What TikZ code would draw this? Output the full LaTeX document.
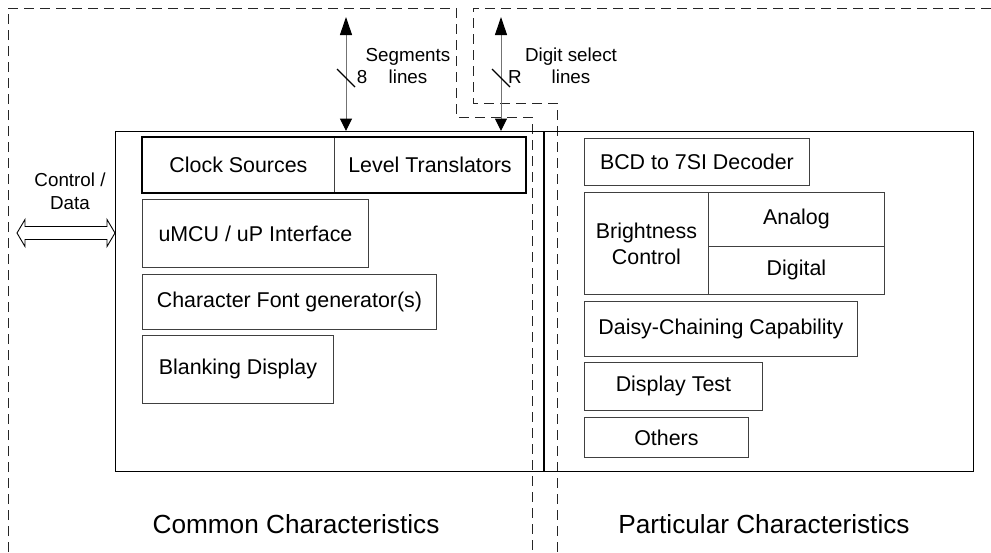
\documentclass[tikz,border=0pt]{standalone}
\usepackage{fontspec}
\setmainfont{Liberation Sans}
\usetikzlibrary{arrows.meta,calc}
\begin{document}
\begin{tikzpicture}[x=1pt,y=-1pt,
  box/.style={draw=black!75, line width=0.9pt, anchor=north west, inner sep=0pt,
    font=\fontsize{21.4}{26}\selectfont, align=center},
  mainbox/.style={draw=black, line width=1.3pt, anchor=north west, inner sep=0pt},
  region/.style={draw=black!85, line width=0.8pt, dash pattern=on 10pt off 6pt},
  sig/.style={draw=black!55, line width=1pt,
    {Triangle[length=18pt,width=12pt,black]}-{Triangle[length=12.5pt,width=12pt,black]}},
  lbl/.style={font=\fontsize{18.8}{22.5}\selectfont, align=center, inner sep=0pt},
  big/.style={font=\fontsize{26.2}{30}\selectfont, inner sep=0pt, anchor=base},
  hollow/.style={draw=black, line width=0.9pt, fill=white, line join=miter},
  bus/.style={draw=black, line width=1.1pt}
]
\useasboundingbox (0,0) rectangle (991,552);

% dashed regions
\draw[region] (8,552) -- (8,8) -- (456,8) -- (456,117) -- (532,117) -- (532,552);
\draw[region] (991,8) -- (473,8) -- (473,103) -- (557,103) -- (557,552);

% main box and divider
\node[mainbox, minimum width=858pt, minimum height=340pt] (main) at (115,131) {};
\coordinate (divx) at (544,0);
\draw[line width=1.3pt] (main.north -| divx) -- (main.south -| divx);

% common blocks
\node[box, minimum width=192pt, minimum height=55pt] (clock) at (142,137) {Clock Sources};
\node[box, minimum width=191pt, minimum height=55pt] (level) at (334,137) {Level Translators};
\draw[line width=1.3pt] (clock.north west) rectangle (level.south east);
\node[box, minimum width=226pt, minimum height=68pt] (umcu) at (142,199) {uMCU / uP Interface};
\node[box, minimum width=294pt, minimum height=55pt] (charfont) at (142,274) {Character Font generator(s)};
\node[box, minimum width=191pt, minimum height=68pt] (blank) at (142,335) {Blanking Display};

% particular blocks
\node[box, minimum width=225pt, minimum height=47pt] (bcd) at (584,138) {BCD to 7SI Decoder};
\node[box, minimum width=124pt, minimum height=102pt] (bright) at (584,192) {Brightness\\Control};
\node[box, minimum width=176pt, minimum height=54pt] (analog) at (708,192) {Analog};
\node[box, minimum width=176pt, minimum height=48pt] (digital) at (708,246) {Digital};
\node[box, minimum width=273pt, minimum height=55pt] (daisy) at (584,301) {Daisy-Chaining Capability};
\node[box, minimum width=178pt, minimum height=48pt] (dtest) at (584,362) {Display Test};
\node[box, minimum width=164pt, minimum height=40pt] (others) at (584,417) {Others};

% signal arrows
\coordinate (segT) at (346,17);
\coordinate (digT) at (501,17);
\draw[sig] (segT) -- (segT |- main.north);
\draw[sig] (digT) -- (digT |- main.north);
\draw[bus] (segT) ++(-9,52) -- ++(18,18);
\draw[bus] (digT) ++(-9,52) -- ++(18,18);
\node[lbl] (n8) at (362,77) {8};
\node[lbl] (segl) at (408,66) {Segments\\lines};
\node[lbl] (nR) at (515,77) {R};
\node[lbl] (digl) at (571,66) {Digit select\\lines};

% control / data
\node[lbl] (cd) at (70,191.5) {Control /\\Data};
\coordinate (cdL) at (17,233);
\coordinate (cdR) at (main.west |- cdL);
\draw[hollow] (cdL) -- ++(8,-13.5) -- ++(0,7) -- ($(cdR)+(-8,-6.5)$) -- ++(0,-7) -- (cdR)
  -- ++(-8,13.5) -- ++(0,-7) -- ($(cdL)+(8,6.5)$) -- ++(0,7) -- cycle;

% bottom labels
\node[big] (common) at (296,533) {Common Characteristics};
\node[big] (partic) at (764,533) {Particular Characteristics};
\end{tikzpicture}
\end{document}
